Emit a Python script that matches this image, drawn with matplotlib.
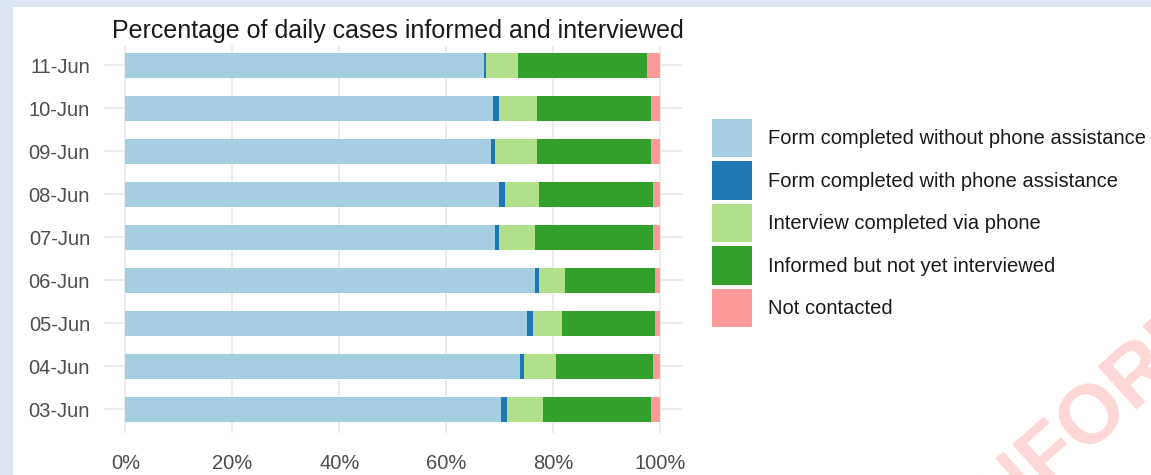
import numpy as np
import matplotlib
matplotlib.use("Agg")
import matplotlib.pyplot as plt
from matplotlib.patches import Rectangle

plt.rcParams['font.family'] = ['Liberation Sans', 'DejaVu Sans']

dates = ["03-Jun", "04-Jun", "05-Jun", "06-Jun", "07-Jun", "08-Jun", "09-Jun", "10-Jun", "11-Jun"]

# percentages per day
form_no_phone = [70.3, 73.8, 75.2, 76.7, 69.2, 69.9, 68.4, 68.8, 67.0]
form_phone = [1.0, 0.8, 1.1, 0.7, 0.7, 1.1, 0.8, 1.1, 0.5]
interview_phone = [6.8, 5.9, 5.3, 4.9, 6.8, 6.4, 7.8, 7.1, 6.0]
informed_only = [20.2, 18.2, 17.4, 16.7, 22.0, 21.3, 21.3, 21.3, 24.1]
not_contacted = [1.7, 1.3, 1.0, 1.0, 1.3, 1.3, 1.7, 1.7, 2.4]

categories = ["Form completed without phone assistance",
              "Form completed with phone assistance",
              "Interview completed via phone",
              "Informed but not yet interviewed",
              "Not contacted"]
colors = ["#a6cee3", "#1f78b4", "#b2df8a", "#33a02c", "#fb9a99"]

W, H = 1151, 475
fig = plt.figure(figsize=(W / 100, H / 100), dpi=100, facecolor="#dce6f2")
fig.patches.append(Rectangle((13 / W, 0), 1, (H - 7) / H, transform=fig.transFigure,
                             facecolor="white", edgecolor="none", zorder=-5))

ax = fig.add_axes([104 / W, (H - 433) / H, (683 - 104) / W, (433 - 46) / H])
ax.set_facecolor("none")

series = [form_no_phone, form_phone, interview_phone, informed_only, not_contacted]
y = np.arange(len(dates))
left = np.zeros(len(dates))
handles = []
for vals, col, lab in zip(series, colors, categories):
    v = np.array(vals) / 100.0
    b = ax.barh(y, v, left=left, height=0.58, color=col, label=lab, zorder=2)
    handles.append(b)
    left += v

ax.set_xlim(-0.04, 1.043)
ax.set_ylim(-0.55, 8.45)
ax.set_xticks(np.arange(0, 1.01, 0.2))
ax.set_xticklabels(["0%", "20%", "40%", "60%", "80%", "100%"])
ax.set_yticks(y)
ax.set_yticklabels(dates)
ax.grid(True, color="#ebebeb", lw=1.3, zorder=0)
ax.set_axisbelow(True)
for s in ax.spines.values():
    s.set_visible(False)
ax.tick_params(axis="y", length=0, pad=10, labelsize=14.5, labelcolor="#4d4d4d")
ax.tick_params(axis="x", length=0, pad=15, labelsize=14.5, labelcolor="#4d4d4d")

fig.text(112 / W, (H - 31) / H, "Percentage of daily cases informed and interviewed",
         fontsize=18, color="#1a1a1a", va="center", ha="left")

fig.legend(handles=handles, loc="upper left", bbox_to_anchor=(712 / W, (H - 119) / H),
           frameon=False, fontsize=14.5, handlelength=2.0, handleheight=2.53,
           labelspacing=0.22, handletextpad=0.8, borderpad=0, borderaxespad=0,
           labelcolor="#1a1a1a")

fig.text(943 / W, -80 / H, "INFORMATION", fontsize=60, fontweight="bold", color="#ff0000",
         alpha=0.16, rotation=42, ha="left", va="bottom")

fig.savefig("out.png", dpi=100, facecolor=fig.get_facecolor())
